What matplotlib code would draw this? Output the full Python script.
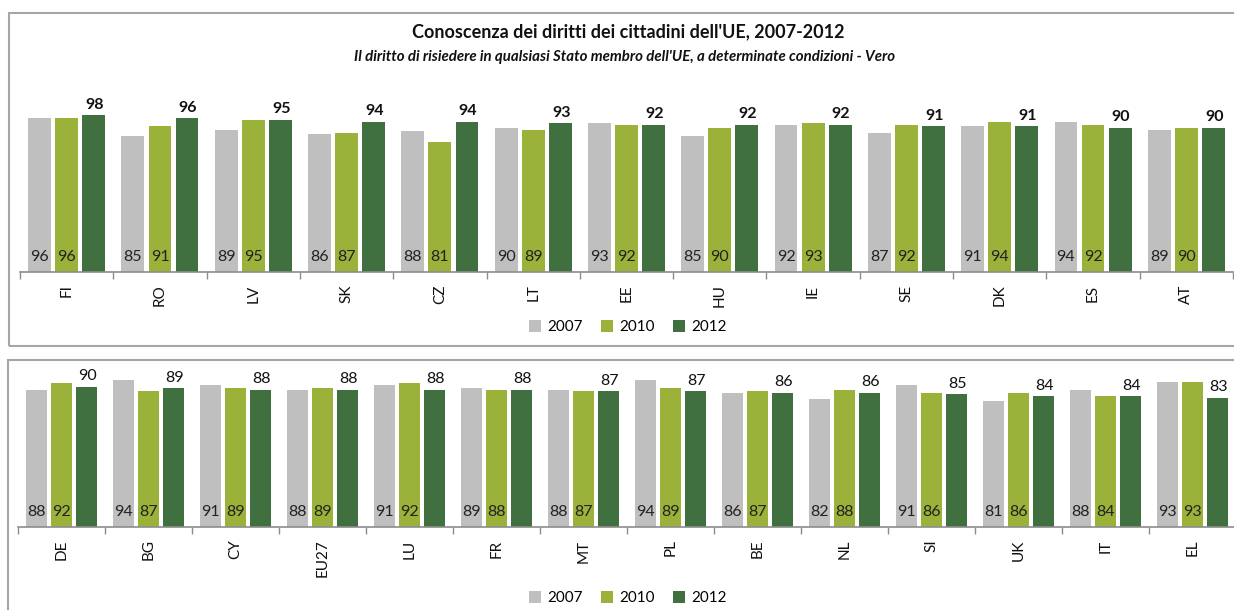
import matplotlib
matplotlib.use("Agg")
import matplotlib.pyplot as plt
from matplotlib.patches import Patch, Rectangle

plt.rcParams['font.family'] = ['Lato', 'DejaVu Sans']

years = ['2007', '2010', '2012']
colors = ['#BFBFBF', '#9AB23A', '#417040']

# first block of countries
top_countries = ['FI', 'RO', 'LV', 'SK', 'CZ', 'LT', 'EE', 'HU', 'IE', 'SE', 'DK', 'ES', 'AT']
top_2007 = [96, 85, 89, 86, 88, 90, 93, 85, 92, 87, 91, 94, 89]
top_2010 = [96, 91, 95, 87, 81, 89, 92, 90, 93, 92, 94, 92, 90]
top_2012 = [98, 96, 95, 94, 94, 93, 92, 92, 92, 91, 91, 90, 90]

# second block of countries
bot_countries = ['DE', 'BG', 'CY', 'EU27', 'LU', 'FR', 'MT', 'PL', 'BE', 'NL', 'SI', 'UK', 'IT', 'EL']
bot_2007 = [88, 94, 91, 88, 91, 89, 88, 94, 86, 82, 91, 81, 88, 93]
bot_2010 = [92, 87, 89, 89, 92, 88, 87, 89, 87, 88, 86, 86, 84, 93]
bot_2012 = [90, 89, 88, 88, 88, 88, 87, 87, 86, 86, 85, 84, 84, 83]

W, H = 1234, 610
fig = plt.figure(figsize=(W / 100, H / 100), dpi=100)


def px(x0, y0, x1, y1):
    # pixel box (top-left origin) -> figure fraction rect
    return [x0 / W, 1 - y1 / H, (x1 - x0) / W, (y1 - y0) / H]


# panel frames
for (x0, y0, x1, y1) in [(9, 13, 1260, 346), (8, 360, 1260, 640)]:
    fig.add_artist(Rectangle((x0 / W, 1 - y1 / H), (x1 - x0) / W, (y1 - y0) / H,
                             transform=fig.transFigure, fill=False,
                             edgecolor='#A6A6A6', linewidth=1.5))


def draw_panel(ax, countries, series, bold_top):
    n = len(countries)
    step, width = 0.29, 0.245
    for i, vals in enumerate(series):
        xs = [k + (i - 1) * step for k in range(n)]
        bars = ax.bar(xs, vals, width=width, color=colors[i], zorder=2)
        for b, v in zip(bars, vals):
            cx = b.get_x() + b.get_width() / 2
            if i < 2:
                ax.text(cx, 9.5, str(v), ha='center', va='center',
                        fontsize=11.5, color='#222222')
            else:
                ax.text(cx + 0.01, v + 2.2, str(v), ha='center', va='bottom',
                        fontsize=11.5, color='#111111',
                        fontweight='bold' if bold_top else 'normal')
    ax.set_xlim(-0.5, n - 0.5)
    ax.set_ylim(0, 100)
    for s in ['top', 'right', 'left']:
        ax.spines[s].set_visible(False)
    ax.spines['bottom'].set_color('#8C8C8C')
    ax.spines['bottom'].set_linewidth(1.2)
    ax.set_yticks([])
    ax.set_xticks([k - 0.5 for k in range(n + 1)])
    ax.set_xticklabels([])
    ax.tick_params(axis='x', which='major', length=5, color='#8C8C8C', width=1)
    ax.set_xticks(range(n), minor=True)
    ax.set_xticklabels(countries, minor=True, rotation=90, fontsize=11, color='#111111')
    ax.tick_params(axis='x', which='minor', length=0, pad=9)
    ax.patch.set_visible(False)


ax1 = fig.add_axes(px(20, 112, 1233, 272))
draw_panel(ax1, top_countries, [top_2007, top_2010, top_2012], True)

ax2 = fig.add_axes(px(18, 371, 1236, 527))
draw_panel(ax2, bot_countries, [bot_2007, bot_2010, bot_2012], False)

fig.text(628 / W, 1 - 32 / H, "Conoscenza dei diritti dei cittadini dell'UE, 2007-2012",
         ha='center', va='center', fontsize=13, fontweight='bold', color='#111111')
fig.text(625 / W, 1 - 57 / H,
         "Il diritto di risiedere in qualsiasi Stato membro dell'UE, a determinate condizioni - Vero",
         ha='center', va='center', fontsize=10.8, fontweight='bold', fontstyle='italic',
         color='#111111')

handles = [Patch(facecolor=c, edgecolor='none', label=y) for c, y in zip(colors, years)]
for yc in (327, 598):
    fig.legend(handles=handles, loc='center', bbox_to_anchor=(628 / W, 1 - yc / H),
               ncol=3, frameon=False, fontsize=11, handlelength=0.8, handleheight=0.8,
               handletextpad=0.4, columnspacing=1.2)

fig.savefig('out.png', dpi=100)
